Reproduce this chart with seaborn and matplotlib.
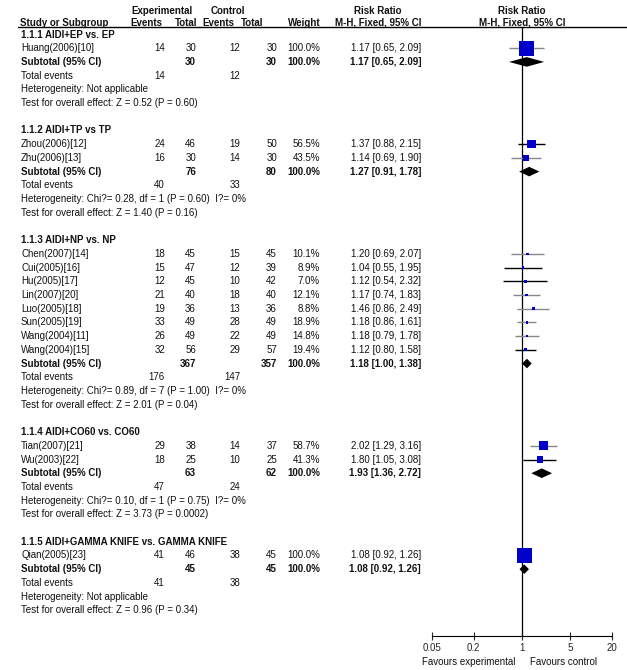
import matplotlib
matplotlib.use('Agg')
import matplotlib.pyplot as plt
import seaborn as sns
import numpy as np
import pandas as pd

sns.set_style('white')
plt.rcParams['font.family'] = ['Liberation Sans', 'DejaVu Sans']

# subgroups
groups = ['1.1.1 AIDI+EP vs. EP', '1.1.2 AIDI+TP vs TP', '1.1.3 AIDI+NP vs. NP',
          '1.1.4 AIDI+CO60 vs. CO60', '1.1.5 AIDI+GAMMA KNIFE vs. GAMMA KNIFE']
sub_exp_n = [30, 76, 367, 63, 45]
sub_ctl_n = [30, 80, 357, 62, 45]
sub_rr = [1.17, 1.27, 1.18, 1.93, 1.08]
sub_lo = [0.65, 0.91, 1.00, 1.36, 0.92]
sub_hi = [2.09, 1.78, 1.38, 2.72, 1.26]
tot_exp_ev = [14, 40, 176, 47, 41]
tot_ctl_ev = [12, 33, 147, 24, 38]
het = ['Heterogeneity: Not applicable',
       'Heterogeneity: Chi?= 0.28, df = 1 (P = 0.60)  I?= 0%',
       'Heterogeneity: Chi?= 0.89, df = 7 (P = 1.00)  I?= 0%',
       'Heterogeneity: Chi?= 0.10, df = 1 (P = 0.75)  I?= 0%',
       'Heterogeneity: Not applicable']
z_test = ['Test for overall effect: Z = 0.52 (P = 0.60)',
          'Test for overall effect: Z = 1.40 (P = 0.16)',
          'Test for overall effect: Z = 2.01 (P = 0.04)',
          'Test for overall effect: Z = 3.73 (P = 0.0002)',
          'Test for overall effect: Z = 0.96 (P = 0.34)']

# studies
study = ['Huang(2006)[10]', 'Zhou(2006)[12]', 'Zhu(2006)[13]', 'Chen(2007)[14]',
         'Cui(2005)[16]', 'Hu(2005)[17]', 'Lin(2007)[20]', 'Luo(2005)[18]',
         'Sun(2005)[19]', 'Wang(2004)[11]', 'Wang(2004)[15]', 'Tian(2007)[21]',
         'Wu(2003)[22]', 'Qian(2005)[23]']
group = [0, 1, 1, 2, 2, 2, 2, 2, 2, 2, 2, 3, 3, 4]
exp_ev = [14, 24, 16, 18, 15, 12, 21, 19, 33, 26, 32, 29, 18, 41]
exp_n = [30, 46, 30, 45, 47, 45, 40, 36, 49, 49, 56, 38, 25, 46]
ctl_ev = [12, 19, 14, 15, 12, 10, 18, 13, 28, 22, 29, 14, 10, 38]
ctl_n = [30, 50, 30, 45, 39, 42, 40, 36, 49, 49, 57, 37, 25, 45]
weight = [100.0, 56.5, 43.5, 10.1, 8.9, 7.0, 12.1, 8.8, 18.9, 14.8, 19.4, 58.7, 41.3, 100.0]
rr = [1.17, 1.37, 1.14, 1.20, 1.04, 1.12, 1.17, 1.46, 1.18, 1.18, 1.12, 2.02, 1.80, 1.08]
ci_lo = [0.65, 0.88, 0.69, 0.69, 0.55, 0.54, 0.74, 0.86, 0.86, 0.79, 0.80, 1.29, 1.05, 0.92]
ci_hi = [2.09, 2.15, 1.90, 2.07, 1.95, 2.32, 1.83, 2.49, 1.61, 1.78, 1.58, 3.16, 3.08, 1.26]

ci_col = ['#888888', 'black', '#888888', '#888888', 'black', 'black', '#888888',
          '#888888', '#888888', '#888888', 'black', '#888888', 'black', '#888888']

ticks = [0.05, 0.2, 1, 5, 20]
tick_labels = ['0.05', '0.2', '1', '5', '20']

# row layout
ROW0 = 34.5
DY = 13.71
rows = []
title_row, sub_row = [], []
r = 0
for g in range(len(groups)):
    title_row.append(r)
    r += 1
    for i in range(len(study)):
        if group[i] == g:
            rows.append(r)
            r += 1
    sub_row.append(r)
    r += 5

df = pd.DataFrame({'rr': rr, 'row': rows, 'w': weight})
side_px = np.maximum(15 * df['w'] / 100, 2.6)
df['s'] = (side_px * 0.72) ** 2

fig = plt.figure(figsize=(6.27, 6.70), dpi=100)

# text layer, x in pixels, y in rows
ax_t = fig.add_axes([0, 0, 1, 1])
ax_t.set_xlim(0, 627)
ax_t.set_ylim((670 - ROW0) / DY, -ROW0 / DY)
ax_t.axis('off')

fs = 7
def txt(x, y, s, ha='left', bold=False):
    ax_t.text(x, y, s, ha=ha, va='center', fontsize=fs,
              fontweight='bold' if bold else 'normal', color='#111111')

def py(p):
    return (p - ROW0) / DY

txt(162, py(11), 'Experimental', ha='center', bold=True)
txt(228, py(11), 'Control', ha='center', bold=True)
txt(378, py(11), 'Risk Ratio', ha='center', bold=True)
txt(522, py(11), 'Risk Ratio', ha='center', bold=True)
txt(20, py(22.5), 'Study or Subgroup', bold=True)
txt(162, py(22.5), 'Events', ha='right', bold=True)
txt(197, py(22.5), 'Total', ha='right', bold=True)
txt(234, py(22.5), 'Events', ha='right', bold=True)
txt(263, py(22.5), 'Total', ha='right', bold=True)
txt(321, py(22.5), 'Weight', ha='right', bold=True)
txt(378, py(22.5), 'M-H, Fixed, 95% CI', ha='center', bold=True)
txt(522, py(22.5), 'M-H, Fixed, 95% CI', ha='center', bold=True)
ax_t.plot([18, 627], [py(26.5), py(26.5)], color='black', lw=1)

for i in range(len(study)):
    y = rows[i]
    txt(21, y, study[i])
    txt(165, y, str(exp_ev[i]), ha='right')
    txt(196, y, str(exp_n[i]), ha='right')
    txt(240, y, str(ctl_ev[i]), ha='right')
    txt(277, y, str(ctl_n[i]), ha='right')
    txt(320, y, f'{weight[i]:.1f}%', ha='right')
    txt(421, y, f'{rr[i]:.2f} [{ci_lo[i]:.2f}, {ci_hi[i]:.2f}]', ha='right')

for g in range(len(groups)):
    y = sub_row[g]
    txt(21, title_row[g], groups[g], bold=True)
    txt(21, y, 'Subtotal (95% CI)', bold=True)
    txt(196, y, str(sub_exp_n[g]), ha='right', bold=True)
    txt(277, y, str(sub_ctl_n[g]), ha='right', bold=True)
    txt(320, y, '100.0%', ha='right', bold=True)
    txt(421, y, f'{sub_rr[g]:.2f} [{sub_lo[g]:.2f}, {sub_hi[g]:.2f}]', ha='right', bold=True)
    txt(21, y + 1, 'Total events')
    txt(165, y + 1, str(tot_exp_ev[g]), ha='right')
    txt(240, y + 1, str(tot_ctl_ev[g]), ha='right')
    txt(21, y + 2, het[g])
    txt(21, y + 3, z_test[g])

txt(515, py(662), 'Favours experimental', ha='right')
txt(530, py(662), 'Favours control')

# forest panel
ax_f = fig.add_axes([432 / 627, (670 - 636) / 670, 180 / 627, (636 - 26.5) / 670])
ax_f.patch.set_alpha(0)
ax_f.set_xscale('log')
ax_f.set_xlim(0.05, 20)
ax_f.set_ylim(py(636), py(26.5))
for sp in ['top', 'left', 'right']:
    ax_f.spines[sp].set_visible(False)
ax_f.spines['bottom'].set_color('black')
ax_f.spines['bottom'].set_linewidth(0.8)
ax_f.set_yticks([])
ax_f.set_xticks(ticks)
ax_f.set_xticklabels(tick_labels)
ax_f.minorticks_off()
ax_f.tick_params(axis='x', direction='inout', length=6, width=0.8, pad=2,
                 labelsize=fs, bottom=True)
ax_f.axvline(1, color='black', lw=0.9, zorder=1)

ax_f.hlines(rows, ci_lo, ci_hi, colors=ci_col, lw=1, zorder=2)
sns.scatterplot(data=df, x='rr', y='row', marker='s', s=df['s'].values,
                color='#0000c8', linewidth=0, ax=ax_f, zorder=3, legend=False)
for g in range(len(groups)):
    y = sub_row[g]
    ax_f.fill([sub_lo[g], sub_rr[g], sub_hi[g], sub_rr[g]],
              [y, y - 0.35, y, y + 0.35], color='black', lw=0, zorder=3)
ax_f.set_xlabel('')
ax_f.set_ylabel('')

fig.savefig('out.png', dpi=100)
